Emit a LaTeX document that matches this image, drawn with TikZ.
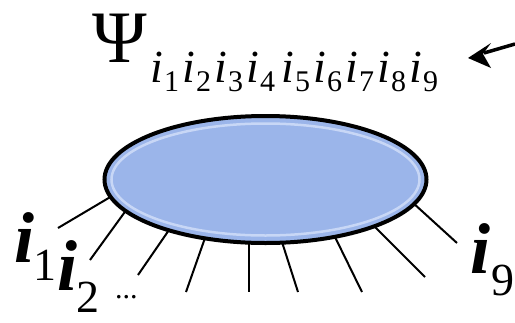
\documentclass[tikz,border=0pt]{standalone}
\usepackage{fontspec}
\setmainfont{Liberation Serif}
\newfontfamily\tnr{Liberation Serif}
\definecolor{blobblue}{RGB}{155,181,234}
\definecolor{blobhi}{RGB}{200,215,246}
\begin{document}
\begin{tikzpicture}[x=1pt,y=-1pt,
  legline/.style={line width=2pt, black},
  arrowline/.style={line width=3.5pt},
  bigi/.style={anchor=base west, inner sep=0pt, font=\tnr\fontsize{72}{72}\selectfont\bfseries\itshape},
  bigsub/.style={anchor=base west, inner sep=0pt, font=\tnr\fontsize{46}{46}\selectfont},
  smalli/.style={anchor=base west, inner sep=0pt, font=\tnr\fontsize{46}{46}\selectfont\itshape},
  smallsub/.style={anchor=base west, inner sep=0pt, font=\tnr\fontsize{30}{30}\selectfont}
]
\useasboundingbox (0,0) rectangle (515,322);
% leg start points (under the blob rim) and free ends
\coordinate (s1) at (112,196);
\coordinate (s2) at (127,209);
\coordinate (s3) at (169,230);
\coordinate (s4) at (205,238);
\coordinate (s5) at (249,242);
\coordinate (s6) at (282,242);
\coordinate (s7) at (335,237);
\coordinate (s8) at (374,226);
\coordinate (s9) at (412,202);
\coordinate (e1) at (58,228);
\coordinate (e2) at (90,260);
\coordinate (e3) at (138,275);
\coordinate (e4) at (186,292);
\coordinate (e5) at (249,292);
\coordinate (e6) at (298,292);
\coordinate (e7) at (362,292);
\coordinate (e8) at (425,277);
\coordinate (e9) at (457,243);
% legs
\draw[legline] (s1) -- (e1);
\draw[legline] (s2) -- (e2);
\draw[legline] (s3) -- (e3);
\draw[legline] (s4) -- (e4);
\draw[legline] (s5) -- (e5);
\draw[legline] (s6) -- (e6);
\draw[legline] (s7) -- (e7);
\draw[legline] (s8) -- (e8);
\draw[legline] (s9) -- (e9);
% blob
\coordinate (blob) at (265.5,179.5);
\draw[line width=4pt, fill=blobblue] (blob) ellipse (161 and 63.5);
\draw[blobhi, line width=2.5pt] (blob) ellipse (154 and 56);
% labels
\node[bigi] (l1) at (14,262) {i};
\node[bigsub] (l1s) at (33,280) {1};
\node[bigi] (l2) at (57,290) {i};
\node[bigsub] (l2s) at (76,312) {2};
\node[anchor=base west, inner sep=0pt, font=\tnr\fontsize{30}{30}\selectfont] (dots) at (115,298) {...};
\node[bigi] (l9) at (470,273) {i};
\node[bigsub] (l9s) at (491,295) {9};
% psi
\node[anchor=base west, inner sep=0pt, font=\tnr\fontsize{74}{74}\selectfont] (psi) at (92,62) {Ψ};
\node[smalli] (ii1) at (150,82) {i};
\node[smallsub] (id1) at (164,91) {1};
\node[smalli] (ii2) at (182,82) {i};
\node[smallsub] (id2) at (196,91) {2};
\node[smalli] (ii3) at (214,82) {i};
\node[smallsub] (id3) at (228,91) {3};
\node[smalli] (ii4) at (246,82) {i};
\node[smallsub] (id4) at (260,91) {4};
\node[smalli] (ii5) at (281,82) {i};
\node[smallsub] (id5) at (295,91) {5};
\node[smalli] (ii6) at (313,82) {i};
\node[smallsub] (id6) at (327,91) {6};
\node[smalli] (ii7) at (345,82) {i};
\node[smallsub] (id7) at (359,91) {7};
\node[smalli] (ii8) at (377,82) {i};
\node[smallsub] (id8) at (391,91) {8};
\node[smalli] (ii9) at (409,82) {i};
\node[smallsub] (id9) at (423,91) {9};
% arrow
\coordinate (atail) at (515,44);
\coordinate (atip) at (468,58);
\coordinate (abase) at (484,53);
\draw[arrowline] (atail) -- (abase);
\fill (atip) -- (491,43) -- (483,54) -- (491,68) -- cycle;
\end{tikzpicture}
\end{document}
